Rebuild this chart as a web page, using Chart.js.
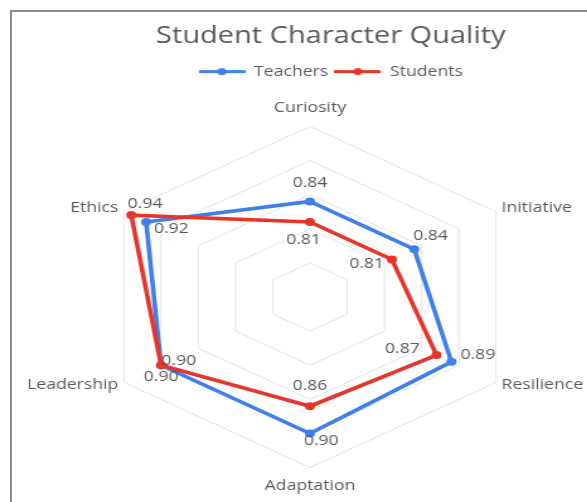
<!DOCTYPE html>
<html><head><meta charset="utf-8">
<script src="https://cdn.jsdelivr.net/npm/chart.js@4.4.1/dist/chart.umd.min.js"></script>
<style>
html,body{margin:0;padding:0;background:#fff;overflow:hidden;width:587px;height:502px;}
#wrap{position:absolute;left:0;top:0;width:525px;height:502px;transform:scaleX(1.26);transform-origin:0 0;}
#frame{position:absolute;left:10px;top:10px;right:0;bottom:0;border-left:2px solid #8c8c8c;border-top:2px solid #8c8c8c;pointer-events:none;}
</style></head><body>
<div id="wrap"><canvas id="c" width="525" height="502"></canvas></div>
<div id="frame"></div>
<script>
// ---- data ----
const categories = ['Curiosity', 'Initiative', 'Resilience', 'Adaptation', 'Leadership', 'Ethics'];
const seriesNames = ['Teachers', 'Students'];
const teachers = [0.84, 0.84, 0.89, 0.90, 0.90, 0.92];
const students = [0.81, 0.81, 0.87, 0.86, 0.90, 0.94];
const scaleMin = 0.70;
const scaleMax = 0.95;
const scaleStep = 0.05;
const chartTitle = 'Student Character Quality';

// ---- styling ----
const FONT = '"Open Sans", "DejaVu Sans", sans-serif';
const TEXT = '#595959';
const BLUE = '#3f7fea';
const RED = '#e5362c';
const labelOffsets = [
  [[0, -18], [13, -13], [21, -7], [9, 8], [0, 12], [20, 7]],
  [[-5, 18], [-20, 5], [-27, -6], [0, -20], [14, -4], [11, -11]]
];

function legendMarker(color) {
  const c = document.createElement('canvas');
  c.width = 37; c.height = 9;
  const g = c.getContext('2d');
  g.strokeStyle = color; g.lineWidth = 3;
  g.beginPath(); g.moveTo(0, 4.5); g.lineTo(37, 4.5); g.stroke();
  g.fillStyle = color;
  g.beginPath(); g.arc(18.5, 4.5, 3.6, 0, Math.PI * 2); g.fill();
  return c;
}
const markers = [legendMarker(BLUE), legendMarker(RED)];

function spacer(id, position, size) {
  return {
    id,
    beforeInit(chart) {
      const box = {
        position, weight: 0, fullSize: false, options: {},
        top: 0, left: 0, right: 0, bottom: 0, width: 0, height: 0,
        isHorizontal() { return position === 'top' || position === 'bottom'; },
        update(maxWidth, maxHeight) {
          if (this.isHorizontal()) { this.width = maxWidth; this.height = size; }
          else { this.width = size; this.height = maxHeight; }
        },
        draw() {}
      };
      Chart.layouts.addBox(chart, box);
    }
  };
}

const valueLabels = {
  id: 'valueLabels',
  afterDatasetsDraw(chart) {
    const ctx = chart.ctx;
    ctx.save();
    ctx.font = '14px ' + FONT;
    ctx.fillStyle = TEXT;
    ctx.textAlign = 'center';
    ctx.textBaseline = 'middle';
    chart.data.datasets.forEach((ds, di) => {
      const meta = chart.getDatasetMeta(di);
      meta.data.forEach((pt, i) => {
        const [dx, dy] = labelOffsets[di][i];
        ctx.fillText(ds.data[i].toFixed(2), pt.x + dx, pt.y + dy);
      });
    });
    ctx.restore();
  }
};

new Chart(document.getElementById('c'), {
  type: 'radar',
  data: {
    labels: categories,
    datasets: [
      { label: seriesNames[0], data: teachers, borderColor: BLUE, backgroundColor: BLUE,
        pointBackgroundColor: BLUE, pointBorderColor: BLUE, order: 1 },
      { label: seriesNames[1], data: students, borderColor: RED, backgroundColor: RED,
        pointBackgroundColor: RED, pointBorderColor: RED, order: 0 }
    ]
  },
  plugins: [spacer('topSpacer', 'top', 11), spacer('rightSpacer', 'right', 35), valueLabels],
  options: {
    responsive: false,
    animation: false,
    devicePixelRatio: 1,
    layout: { padding: { top: 0, bottom: 7, left: 0, right: 0 } },
    elements: {
      line: { borderWidth: 3.6, fill: false, tension: 0 },
      point: { radius: 4, borderWidth: 0, hoverRadius: 4 }
    },
    scales: {
      r: {
        min: scaleMin, max: scaleMax,
        beginAtZero: false,
        ticks: { display: false, stepSize: scaleStep },
        angleLines: { display: false },
        grid: { color: '#e4e4e4', lineWidth: 1, circular: false },
        pointLabels: {
          color: TEXT,
          padding: (c) => (c.index % 3 === 0 ? 10 : 5),
          font: (c) => ({ family: FONT, size: 14, lineHeight: (c.index % 3 === 0 ? 1.2 : 0.1) })
        }
      }
    },
    plugins: {
      title: {
        display: true, text: chartTitle, color: TEXT,
        font: { family: FONT, size: 23, weight: 'normal', lineHeight: 1.2 },
        padding: { top: 23, bottom: 9 }
      },
      legend: {
        display: true, position: 'top',
        labels: {
          color: TEXT,
          font: { family: FONT, size: 14 },
          usePointStyle: true,
          pointStyleWidth: 37,
          padding: 5,
          generateLabels(chart) {
            const items = Chart.defaults.plugins.legend.labels.generateLabels(chart);
            items.forEach(it => { it.pointStyle = markers[it.datasetIndex]; });
            return items.sort((a, b) => a.datasetIndex - b.datasetIndex);
          }
        }
      },
      tooltip: { enabled: false }
    }
  }
});
</script>
</body></html>
